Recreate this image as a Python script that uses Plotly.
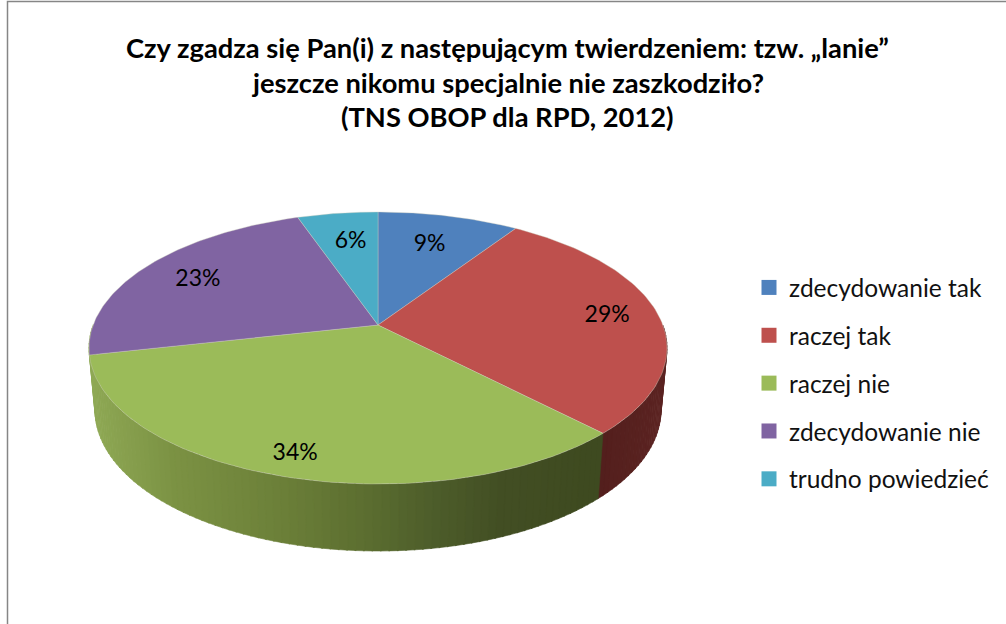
import math
import numpy as np
import plotly.graph_objects as go

TITLE_LINES = ["Czy zgadza się Pan(i) z następującym twierdzeniem: tzw. „lanie”",
               "jeszcze nikomu specjalnie nie zaszkodziło?",
               "(TNS OBOP dla RPD, 2012)"]
categories = ["zdecydowanie tak", "raczej tak", "raczej nie", "zdecydowanie nie", "trudno powiedzieć"]
values = [9.3, 28.5, 33.7, 23.2, 5.3]
percent_labels = ["9%", "29%", "34%", "23%", "6%"]
colors = ["#4F81BD", "#BE504D", "#9BBB59", "#8064A2", "#4BACC6"]
label_radius = [0.70, 0.80, 0.85, 0.77, 0.72]
label_nudge = [(0, 0), (5, 1), (-2, 5), (0, 2), (3, 1)]

# pie geometry (pixels of the chart canvas, used as the axis coordinates)
CX, TOP_CY, TOP_RX, TOP_RY = 378, 348, 289, 136
BOT_CY, BOT_RX, BOT_RY = 410, 283, 141
P = 0.169  # perspective shift of the pie centre
S = math.sqrt(1 - P * P)

def project(theta, r, cy, rx, ry):
    u, v = r * np.sin(theta), r * np.cos(theta)
    d = 1 + P * v
    return CX + rx * u * S / d, cy - ry * (v + P) / d

def mix(stops, x):
    xs = [s[0] for s in stops]
    ch = [np.interp(x, xs, [int(s[1][i:i + 2], 16) for s in stops]) for i in (1, 3, 5)]
    return "rgb(%d,%d,%d)" % tuple(ch)

green_side = [(90, "#8FA955"), (170, "#7C9344"), (280, "#6C8039"), (370, "#5B6D30"),
              (430, "#4E5E2B"), (500, "#434F24"), (600, "#3E4A20")]
red_side = [(598, "#531F1D"), (667, "#5C2422")]
side_ramps = {1: red_side, 2: green_side, 3: green_side}

total = sum(values)
edges = np.concatenate([[0], np.cumsum(values)]) / total * 2 * math.pi

fig = go.Figure()

# legend entries
for name, col in zip(categories, colors):
    fig.add_trace(go.Scatter(x=[None], y=[None], mode="markers", name=name, legendgroup=name,
                             marker=dict(symbol="square", size=15, color=col), hoverinfo="skip"))

# outer wall, as narrow gradient strips
for i in (1, 2, 3):
    a0, a1 = max(edges[i], math.pi / 2), min(edges[i + 1], 3 * math.pi / 2)
    if a1 <= a0:
        continue
    n = max(2, int((a1 - a0) / 0.025))
    ts = np.linspace(a0, a1, n + 1)
    for t0, t1 in zip(ts[:-1], ts[1:]):
        tt = np.array([t0, t1 + 0.004])
        xt, yt = project(tt, 1, TOP_CY, TOP_RX, TOP_RY)
        xb, yb = project(tt, 1, BOT_CY, BOT_RX, BOT_RY)
        c = mix(side_ramps[i], float(xt.mean()))
        fig.add_trace(go.Scatter(x=list(xt) + list(xb[::-1]) + [xt[0]], y=list(yt) + list(yb[::-1]) + [yt[0]],
                                 mode="lines", fill="toself", fillcolor=c, line=dict(width=0.6, color=c),
                                 showlegend=False, hoverinfo="skip"))

# top face
for i, col in enumerate(colors):
    ts = np.linspace(edges[i], edges[i + 1], 90)
    xs, ys = project(ts, 1, TOP_CY, TOP_RX, TOP_RY)
    xc, yc = project(0.0, 0.0, TOP_CY, TOP_RX, TOP_RY)
    fig.add_trace(go.Scatter(x=[xc] + list(xs) + [xc], y=[yc] + list(ys) + [yc], mode="lines", fill="toself",
                             fillcolor=col, line=dict(width=0.7, color="rgba(205,205,190,0.55)"),
                             showlegend=False, hoverinfo="skip"))

# percentage labels
mids = (edges[:-1] + edges[1:]) / 2
lx, ly = [], []
for m, r, (dx, dy) in zip(mids, label_radius, label_nudge):
    a, b = project(m, r, TOP_CY, TOP_RX, TOP_RY)
    lx.append(a + dx); ly.append(b + dy)
fig.add_trace(go.Scatter(x=lx, y=ly, mode="text", text=percent_labels,
                         textposition="middle center",
                         textfont=dict(family="Lato", size=23, color="#000000"),
                         showlegend=False, hoverinfo="skip"))

fig.update_layout(
    width=1006, height=624, margin=dict(l=0, r=0, t=0, b=0),
    paper_bgcolor="#FFFFFF", plot_bgcolor="#FFFFFF",
    xaxis=dict(range=[0, 1006], visible=False, fixedrange=True),
    yaxis=dict(range=[624, 0], visible=False, fixedrange=True),
    legend=dict(x=749 / 1006, y=1 - 265 / 624, xref="paper", yref="paper", xanchor="left", yanchor="top",
                font=dict(family="Lato", size=24.5, color="#111111"), tracegroupgap=13,
                bgcolor="rgba(0,0,0,0)"),
    shapes=[dict(type="path", path="M 7.5 624 L 7.5 1.5 L 1006 1.5", xref="x", yref="y",
                 line=dict(color="#868686", width=1.5))],
    annotations=[dict(text=t, x=507.5, y=y, xref="x", yref="y", showarrow=False, xanchor="center", yanchor="middle",
                      font=dict(family="Lato", size=27.3, color="#000000"))
                 for t, y in zip(["<b>%s</b>" % s for s in TITLE_LINES], [47, 82, 116])],
)

fig.write_html("out.html", config={"displayModeBar": False},
               post_script="document.body.style.margin='0';document.documentElement.style.overflow='hidden';")
